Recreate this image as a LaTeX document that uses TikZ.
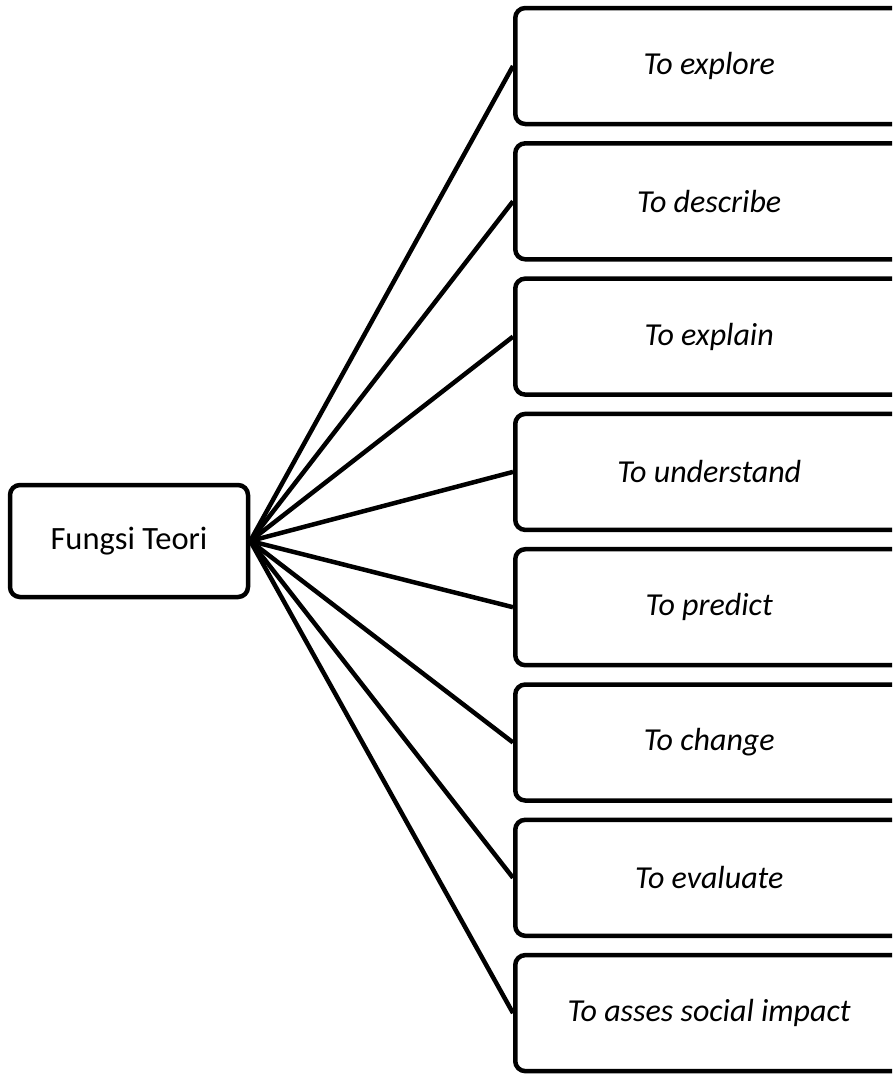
\documentclass[tikz,border=0pt]{standalone}
\usepackage{fontspec}
\setmainfont{Carlito}
\begin{document}
\begin{tikzpicture}[x=1pt,y=-1pt,
  box/.style={draw,line width=4.5pt,rounded corners=10pt,fill=white,
    inner sep=0pt,font=\fontsize{32.5}{38}\selectfont},
  aim/.style={box,minimum width=388pt,minimum height=116pt,anchor=west,
    font=\fontsize{32}{38}\selectfont\itshape},
  link/.style={line width=4.5pt}]
\useasboundingbox (0,0) rectangle (892,1074);
\clip (0,0) rectangle (892,1074);
\node[box,minimum width=238pt,minimum height=112pt] (f) at (129,541) {Fungsi Teori};
\foreach \i/\t in {0/To explore,1/To describe,2/To explain,3/To understand,
  4/To predict,5/To change,6/To evaluate,7/To asses social impact}{
  \draw[link] (f.east) -- (513,66+135.3*\i);
  \node[aim] (a\i) at (513,66+135.3*\i) {\t};
}
\end{tikzpicture}
\end{document}
